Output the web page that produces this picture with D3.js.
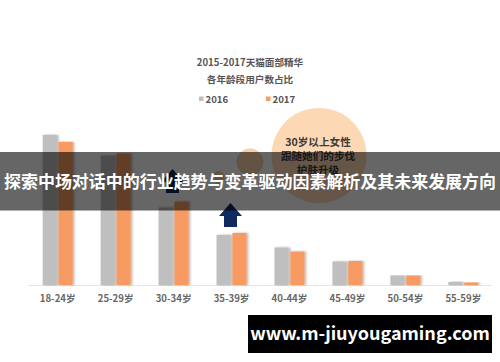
<!DOCTYPE html>
<html><head><meta charset="utf-8">
<script src="https://cdn.jsdelivr.net/npm/d3@7"></script>
<style>
html,body{margin:0;padding:0;background:#fff;}
svg{display:block;}
text{font-family:"Noto Sans CJK SC","Noto Sans",sans-serif;}
</style></head>
<body><svg id="c" width="500" height="362"></svg>
<script>
const categories = ["18-24岁","25-29岁","30-34岁","35-39岁","40-44岁","45-49岁","50-54岁","55-59岁"];
const seriesNames = ["2016","2017"];
const values2016 = [30.0, 25.9, 15.5, 10.0, 7.5, 4.7, 1.9, 0.6];
const values2017 = [28.6, 26.3, 16.7, 10.4, 6.7, 4.8, 1.9, 0.5];
const titleLines = ["2015-2017天猫面部精华", "各年龄段用户数占比"];
const bubbleLines = ["30岁以上女性", "跟随她们的步伐", "护肤升级"];
const bannerText = "探索中场对话中的行业趋势与变革驱动因素解析及其未来发展方向";
const watermark = "www.m-jiuyougaming.com";
const colors = {"2016":"#bfbfbf","2017":"#f89b63"};

const svg = d3.select("#c");
const defs = svg.append("defs");
const f = defs.append("filter").attr("id","sh").attr("x","-20%").attr("y","-5%").attr("width","150%").attr("height","115%");
f.append("feDropShadow").attr("dx",1.5).attr("dy",0).attr("stdDeviation",0.8).attr("flood-color","#000").attr("flood-opacity",0.3);

const x = d3.scaleBand().domain(categories).range([28.7, 492.3]);
const xi = d3.scaleBand().domain(seriesNames).range([14, 44]).paddingInner(0.1);
const y = d3.scaleLinear().domain([0, 35]).range([285, 110]);

// title
svg.append("g").selectAll("text").data(titleLines).join("text")
  .attr("x", 250).attr("y", (d,i)=>66 + i*17)
  .attr("text-anchor","middle").attr("font-size",9.6).attr("font-weight","bold").attr("fill","#555")
  .text(d=>d);

// legend
const leg = svg.append("g").selectAll("g").data(seriesNames).join("g")
  .attr("transform",(d,i)=>`translate(${199 + i*67},95)`);
leg.append("rect").attr("width",4.5).attr("height",4.5).attr("y",1.5).attr("fill",d=>colors[d]);
leg.append("text").attr("x",6.5).attr("y",7.5).attr("font-size",9.6).attr("font-weight","bold").attr("fill","#555").text(d=>d);

// decorative bubbles
svg.append("circle").attr("cx",319).attr("cy",155.5).attr("r",47.5).attr("fill","#fcd8b4");
svg.append("circle").attr("cx",250).attr("cy",162).attr("r",13.5).attr("fill","#f6cfa8");
svg.append("circle").attr("cx",218).attr("cy",177.5).attr("r",6.5).attr("fill","#f6cfa8");
svg.append("g").selectAll("text").data(bubbleLines).join("text")
  .attr("x",318).attr("y",(d,i)=>146 + i*14.2)
  .attr("text-anchor","middle").attr("font-size",10.6).attr("font-weight","bold").attr("fill","#3b3b3b")
  .text(d=>d);

// axis baseline
svg.append("line").attr("x1",28).attr("x2",492).attr("y1",285.5).attr("y2",285.5).attr("stroke","#e6e6e6").attr("stroke-width",1);

// bars
const data = categories.map((c,i)=>({c, vals:[{s:"2016",v:values2016[i]},{s:"2017",v:values2017[i]}]}));
const g = svg.append("g").selectAll("g").data(data).join("g").attr("transform",d=>`translate(${x(d.c)},0)`);
g.selectAll("rect").data(d=>d.vals).join("rect")
  .attr("x",d=>xi(d.s)).attr("width",xi.bandwidth())
  .attr("y",d=>y(d.v)).attr("height",d=>y(0)-y(d.v))
  .attr("fill",d=>colors[d.s]).attr("filter","url(#sh)");

// x axis labels
const ax = svg.append("g").attr("transform","translate(0,285)")
  .call(d3.axisBottom(x).tickSize(0).tickPadding(10));
ax.select(".domain").remove();
ax.selectAll("text").attr("font-size",9.6).attr("font-weight","bold").attr("fill","#666")
  .attr("font-family","\"Noto Sans CJK SC\",sans-serif");

// arrows
function arrow(cx, tipY){
  const hw=11.5, sw=6.5, hh=13, total=24;
  return `M${cx},${tipY} L${cx+hw},${tipY+hh} L${cx+sw},${tipY+hh} L${cx+sw},${tipY+total} L${cx-sw},${tipY+total} L${cx-sw},${tipY+hh} L${cx-hw},${tipY+hh} Z`;
}
svg.append("path").attr("d",arrow(172.5,169)).attr("fill","#0f2a5e");
svg.append("path").attr("d",arrow(230.5,203)).attr("fill","#0f2a5e");

// banner overlay
svg.append("rect").attr("x",0).attr("y",152).attr("width",500).attr("height",58.5).attr("fill","rgba(0,0,0,0.6)");
svg.append("text").attr("x",250).attr("y",188).attr("text-anchor","middle")
  .attr("font-size",17).attr("font-weight","bold").attr("fill","#fff")
  .attr("textLength",492).attr("lengthAdjust","spacingAndGlyphs").text(bannerText);

// watermark
svg.append("rect").attr("x",248).attr("y",315).attr("width",244).attr("height",38).attr("fill","#000");
svg.append("text").attr("x",370).attr("y",340).attr("text-anchor","middle")
  .attr("font-size",18).attr("font-weight","bold").attr("fill","#fff")
  .attr("font-family","\"Open Sans\",\"DejaVu Sans\",sans-serif").text(watermark);
</script></body></html>
